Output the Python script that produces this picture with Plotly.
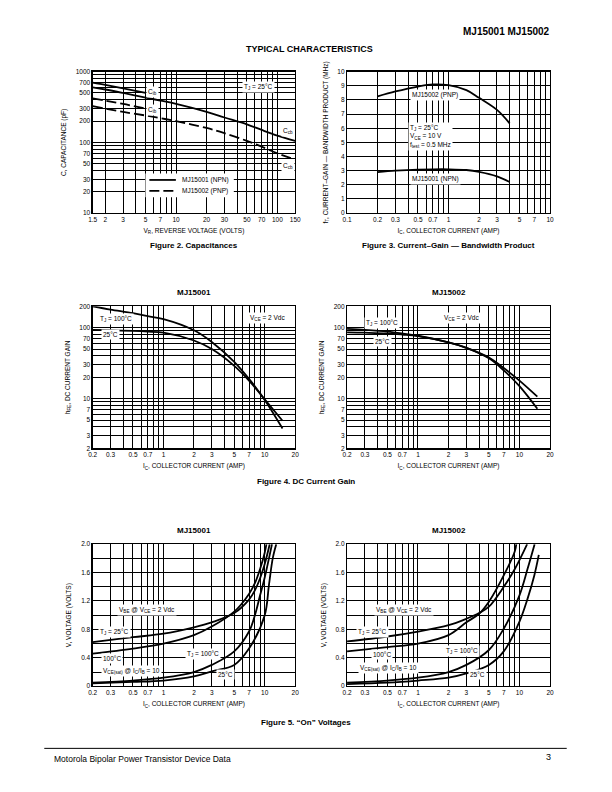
import math
import plotly.graph_objects as go

# ---------------- DATA ----------------
# Figure 2: capacitances
cap_vr = [1.5, 2, 3, 5, 7, 10, 20, 30, 50, 70, 100, 150]
cob_npn = [600, 560, 500, 430, 390, 350, 270, 225, 180, 150, 125, 105]
cob_pnp = [325, 300, 270, 240, 220, 200, 160, 135, 105, 87, 70, 57]
cib_vr = [1.5, 2, 3, 5]
cib_npn = [700, 650, 580, 500]
cib_pnp = [420, 390, 350, 300]

# Figure 3: fT
ft_ic = [0.2, 0.3, 0.5, 0.7, 1, 1.5, 2, 3, 4]
ft_pnp = [8.25, 8.6, 8.95, 9.1, 9.05, 8.7, 8.15, 7.3, 6.35]
ft_npn = [2.9, 3.0, 3.08, 3.1, 3.1, 3.05, 2.92, 2.6, 2.2]

# Figure 4: DC current gain
hfe_ic = [0.2, 0.3, 0.5, 0.7, 1, 2, 3, 5, 7, 10, 15]
hfe1_100 = [200, 180, 160, 145, 132, 92, 63, 33, 19, 9.6, 3.8]
hfe1_25 = [93, 92, 90, 88, 85, 66, 50, 29, 18, 9.8, 4.9]
hfe2_100 = [96, 93, 88, 83, 77, 62, 52, 37, 25, 15, 7.2]
hfe2_25 = [86, 85, 83, 80, 76, 62, 52, 38, 27, 18, 10.7]

# Figure 5: on voltages
v1_ic_be100 = [0.2, 0.5, 1, 2, 3, 5, 7, 8, 9, 10, 10.4]
v1_be100 = [0.46, 0.53, 0.6, 0.72, 0.84, 1.05, 1.3, 1.45, 1.65, 1.88, 2.0]
v1_ic_be25 = [0.2, 0.5, 1, 2, 3, 5, 7, 8, 9, 10, 11.2]
v1_be25 = [0.62, 0.69, 0.74, 0.83, 0.9, 1.03, 1.22, 1.35, 1.52, 1.72, 2.0]
v1_ic_sat100 = [0.2, 0.5, 1, 2, 3, 5, 7, 8, 9, 10, 11.8]
v1_sat100 = [0.05, 0.08, 0.12, 0.2, 0.3, 0.49, 0.77, 1.0, 1.28, 1.53, 2.0]
v1_ic_sat25 = [0.2, 0.5, 1, 2, 3, 5, 7, 10, 11, 12, 13]
v1_sat25 = [0.04, 0.06, 0.08, 0.14, 0.21, 0.3, 0.53, 1.0, 1.42, 1.8, 2.0]

v2_ic_be100 = [0.2, 0.5, 1, 2, 3, 4, 5, 7, 9, 9.3]
v2_be100 = [0.49, 0.55, 0.6, 0.72, 0.9, 1.02, 1.19, 1.56, 1.9, 2.0]
v2_ic_be25 = [0.2, 0.5, 1, 2, 3, 4, 5, 7, 9, 11.9]
v2_be25 = [0.63, 0.7, 0.77, 0.86, 0.95, 1.03, 1.12, 1.4, 1.65, 2.0]
v2_ic_sat100 = [0.2, 0.5, 1, 2, 3, 5, 7, 10, 12, 14.1]
v2_sat100 = [0.05, 0.08, 0.12, 0.2, 0.3, 0.51, 0.81, 1.28, 1.65, 2.0]
v2_ic_sat25 = [0.2, 0.5, 1, 2, 3, 5, 7, 10, 12, 14, 15.5]
v2_sat25 = [0.03, 0.05, 0.08, 0.12, 0.18, 0.3, 0.49, 0.91, 1.23, 1.56, 1.85]

# tick labels
cap_x_labels = [1.5, 2, 3, 5, 7, 10, 20, 30, 50, 70, 100, 150]
cap_y_labels = [10, 20, 30, 50, 70, 100, 200, 300, 500, 700, 1000]
ft_x_labels = [0.1, 0.2, 0.3, 0.5, 0.7, 1, 2, 3, 5, 7, 10]
ft_y_labels = list(range(0, 11))
ic_x_labels = [0.2, 0.3, 0.5, 0.7, 1, 2, 3, 5, 7, 10, 20]
hfe_y_labels = [2, 3, 5, 7, 10, 20, 30, 50, 70, 100, 200]
v_y_labels = [0, 0.4, 0.8, 1.2, 1.6, 2.0]

FONT = "Liberation Sans, Arial, Helvetica, sans-serif"
W, H = 612, 792
BLK = "black"
LW = 1.8


def log_grid(lo, hi):
    vals = []
    d = 10 ** math.floor(math.log10(lo))
    while d <= hi:
        for m in range(1, 10):
            v = round(m * d, 10)
            if lo - 1e-9 <= v <= hi + 1e-9:
                vals.append(v)
        d *= 10
    return sorted(vals)


def minor_of(grid, labels):
    return [g for g in grid if not any(abs(g - l) < 1e-9 for l in labels)]


def px_dom_x(a, b):
    return [a / W, b / W]


def px_dom_y(top, bottom):
    return [1 - bottom / H, 1 - top / H]


fig = go.Figure()


def curve(xs, ys, xa, ya, dash=None):
    line = dict(color=BLK, width=LW, shape="spline", smoothing=1.0)
    if dash:
        line["dash"] = dash
    fig.add_trace(go.Scatter(x=xs, y=ys, mode="lines", line=line, showlegend=False,
                             xaxis=xa, yaxis=ya, hoverinfo="skip"))


DASH = "10px,4px"
# ---- Fig 2
curve(cap_vr, cob_npn, "x", "y")
curve(cap_vr, cob_pnp, "x", "y", DASH)
curve(cib_vr, cib_npn, "x", "y")
curve(cib_vr, cib_pnp, "x", "y", DASH)
# ---- Fig 3
curve(ft_ic, ft_pnp, "x2", "y2")
curve(ft_ic, ft_npn, "x2", "y2")
# ---- Fig 4
curve(hfe_ic, hfe1_100, "x3", "y3")
curve(hfe_ic, hfe1_25, "x3", "y3")
curve(hfe_ic, hfe2_100, "x4", "y4")
curve(hfe_ic, hfe2_25, "x4", "y4")
# ---- Fig 5
for xs, ys in ((v1_ic_be100, v1_be100), (v1_ic_be25, v1_be25), (v1_ic_sat100, v1_sat100), (v1_ic_sat25, v1_sat25)):
    curve(xs, ys, "x5", "y5")
for xs, ys in ((v2_ic_be100, v2_be100), (v2_ic_be25, v2_be25), (v2_ic_sat100, v2_sat100), (v2_ic_sat25, v2_sat25)):
    curve(xs, ys, "x6", "y6")

TICKF = dict(family=FONT, size=6.5, color=BLK)
TITLEF = dict(family=FONT, size=6.5, color=BLK)


def axis(domain, typ, rng, labels, grid, title, anchor, standoff=6, fmtfn=None):
    fmtfn = fmtfn or (lambda v: "%g" % v)
    return dict(domain=domain, type=typ, range=rng, tickmode="array", tickvals=labels,
                ticktext=[fmtfn(v) for v in labels],
                showgrid=True, gridcolor=BLK, gridwidth=1, showline=True, linecolor=BLK, linewidth=1.2,
                mirror=True, ticks="", tickfont=TICKF, zeroline=False, anchor=anchor, fixedrange=True,
                minor=dict(tickmode="array", tickvals=minor_of(grid, labels), showgrid=True,
                           gridcolor=BLK, gridwidth=1, ticks=""),
                title=dict(text=title, font=TITLEF, standoff=standoff))


dx_l = px_dom_x(89.3, 295.5)
dx_r = px_dom_x(348.3, 555)
dy_1 = px_dom_y(68.3, 211)
dy_2 = px_dom_y(305, 448.3)
dy_3 = px_dom_y(545, 688.3)

IC_TITLE = "I<sub>C</sub>, COLLECTOR CURRENT (AMP)"
ic_grid = log_grid(0.2, 20)
hfe_grid = log_grid(2, 200)
v_grid = [round(0.2 * i, 1) for i in range(11)]
vfmt = lambda v: "0" if v == 0 else "%.1f" % v

fig.update_layout(
    width=W, height=H, margin=dict(l=0, r=0, t=0, b=0),
    paper_bgcolor="white", plot_bgcolor="white",
    font=dict(family=FONT, color=BLK),
    showlegend=False,
    xaxis=axis(dx_l, "log", [math.log10(1.5), math.log10(150)], cap_x_labels, log_grid(1.5, 150),
               "V<sub>R</sub>, REVERSE VOLTAGE (VOLTS)", "y"),
    yaxis=axis(dy_1, "log", [1, 3], cap_y_labels, log_grid(10, 1000), "C, CAPACITANCE (pF)", "x", 8),
    xaxis2=axis(dx_r, "log", [-1, 1], ft_x_labels, log_grid(0.1, 10), IC_TITLE, "y2"),
    yaxis2=axis(dy_1, "linear", [0, 10], ft_y_labels, ft_y_labels,
                "f<sub>T</sub>, CURRENT–GAIN — BANDWIDTH PRODUCT (MHz)", "x2", 8),
    xaxis3=axis(dx_l, "log", [math.log10(0.2), math.log10(20)], ic_x_labels, ic_grid, IC_TITLE, "y3"),
    yaxis3=axis(dy_2, "log", [math.log10(2), math.log10(200)], hfe_y_labels, hfe_grid,
                "h<sub>FE</sub>, DC CURRENT GAIN", "x3", 8),
    xaxis4=axis(dx_r, "log", [math.log10(0.2), math.log10(20)], ic_x_labels, ic_grid, IC_TITLE, "y4"),
    yaxis4=axis(dy_2, "log", [math.log10(2), math.log10(200)], hfe_y_labels, hfe_grid,
                "h<sub>FE</sub>, DC CURRENT GAIN", "x4", 8),
    xaxis5=axis(dx_l, "log", [math.log10(0.2), math.log10(20)], ic_x_labels, ic_grid, IC_TITLE, "y5"),
    yaxis5=axis(dy_3, "linear", [0, 2], v_y_labels, v_grid, "V, VOLTAGE (VOLTS)", "x5", 8, vfmt),
    xaxis6=axis(dx_r, "log", [math.log10(0.2), math.log10(20)], ic_x_labels, ic_grid, IC_TITLE, "y6"),
    yaxis6=axis(dy_3, "linear", [0, 2], v_y_labels, v_grid, "V, VOLTAGE (VOLTS)", "x6", 8, vfmt),
)

anns = []


def lab(text, x, y, xref, yref, logy=False, size=6.5, xanchor="center"):
    anns.append(dict(text=text, x=math.log10(x), y=math.log10(y) if logy else y,
                     xref=xref, yref=yref, showarrow=False, bgcolor="white", borderpad=1,
                     font=dict(family=FONT, size=size, color=BLK), xanchor=xanchor, align="left"))


# fig 2 labels
lab("C<sub>ib</sub>", 5.8, 520, "x", "y", logy=True)
lab("C<sub>ib</sub>", 5.8, 290, "x", "y", logy=True)
lab("C<sub>cb</sub>", 128, 144, "x", "y", logy=True)
lab("C<sub>cb</sub>", 128, 46, "x", "y", logy=True)
lab("T<sub>J</sub> = 25°C", 65, 616, "x", "y", logy=True)
# fig 3 labels
lab("MJ15002 (PNP)", 0.74, 8.37, "x2", "y2")
lab("MJ15001 (NPN)", 0.74, 2.44, "x2", "y2")
lab("T<sub>J</sub> = 25°C<br>V<sub>CE</sub> = 10 V<br>f<sub>test</sub> = 0.5 MHz", 0.4, 5.4, "x2", "y2", xanchor="left")
# fig 4 labels
lab("T<sub>J</sub> = 100°C", 0.34, 132, "x3", "y3", logy=True)
lab("25°C", 0.30, 81, "x3", "y3", logy=True)
lab("V<sub>CE</sub> = 2 Vdc", 10.7, 137, "x3", "y3", logy=True)
lab("T<sub>J</sub> = 100°C", 0.44, 117, "x4", "y4", logy=True)
lab("25°C", 0.45, 63, "x4", "y4", logy=True)
lab("V<sub>CE</sub> = 2 Vdc", 2.7, 137, "x4", "y4", logy=True)
# fig 5 labels
lab("V<sub>BE</sub> @ V<sub>CE</sub> = 2 Vdc", 0.69, 1.07, "x5", "y5")
lab("T<sub>J</sub> = 25°C", 0.33, 0.77, "x5", "y5")
lab("100°C", 0.31, 0.385, "x5", "y5")
lab("T<sub>J</sub> = 100°C", 2.45, 0.46, "x5", "y5")
lab("V<sub>CE(sat)</sub> @ I<sub>C</sub>/I<sub>B</sub> = 10", 0.48, 0.21, "x5", "y5")
lab("25°C", 4.12, 0.16, "x5", "y5")
lab("V<sub>BE</sub> @ V<sub>CE</sub> = 2 Vdc", 0.73, 1.08, "x6", "y6")
lab("T<sub>J</sub> = 25°C", 0.36, 0.77, "x6", "y6")
lab("100°C", 0.44, 0.44, "x6", "y6")
lab("T<sub>J</sub> = 100°C", 2.7, 0.49, "x6", "y6")
lab("V<sub>CE(sat)</sub> @ I<sub>C</sub>/I<sub>B</sub> = 10", 0.51, 0.25, "x6", "y6")
lab("25°C", 3.9, 0.16, "x6", "y6")


def ptext(text, x, y, size=8, bold=True, xanchor="center"):
    anns.append(dict(text=("<b>%s</b>" % text) if bold else text, x=x / W, y=1 - y / H,
                     xref="paper", yref="paper", showarrow=False, xanchor=xanchor, yanchor="middle",
                     font=dict(family=FONT, size=size, color=BLK)))


ptext("MJ15001 MJ15002", 557, 28, size=10, xanchor="right")
ptext("TYPICAL CHARACTERISTICS", 310, 45, size=9)
ptext("Figure 2. Capacitances", 192, 244, size=8)
ptext("Figure 3. Current–Gain — Bandwidth Product", 452, 244, size=8)
ptext("MJ15001", 192, 291, size=8)
ptext("MJ15002", 452, 291, size=8)
ptext("Figure 4. DC Current Gain", 306, 482, size=8)
ptext("MJ15001", 192, 531, size=8)
ptext("MJ15002", 452, 531, size=8)
ptext("Figure 5. “On” Voltages", 306, 725, size=8)
ptext("Motorola Bipolar Power Transistor Device Data", 48, 762, size=8.5, bold=False, xanchor="left")
ptext("3", 553, 760, size=9, bold=False)

# legend for figure 2 (key box drawn as decoration)
ptext("MJ15001 (NPN)", 178, 177.5, size=6.5, bold=False, xanchor="left")
ptext("MJ15002 (PNP)", 178, 188.5, size=6.5, bold=False, xanchor="left")

shapes = [
    dict(type="line", xref="paper", yref="paper", x0=40 / W, x1=572 / W,
         y0=1 - 751 / H, y1=1 - 751 / H, line=dict(color=BLK, width=1)),
    dict(type="rect", xref="paper", yref="paper", x0=143 / W, x1=233 / W,
         y0=1 - 195 / H, y1=1 - 171 / H, fillcolor="white", line=dict(width=0), layer="above"),
    dict(type="line", xref="paper", yref="paper", x0=147 / W, x1=174 / W,
         y0=1 - 177.5 / H, y1=1 - 177.5 / H, line=dict(color=BLK, width=LW)),
    dict(type="line", xref="paper", yref="paper", x0=147 / W, x1=174 / W,
         y0=1 - 188.5 / H, y1=1 - 188.5 / H, line=dict(color=BLK, width=LW, dash=DASH)),
]

fig.update_layout(annotations=anns, shapes=shapes)

fig.write_html("out.html", config={"displayModeBar": False, "staticPlot": True},
               post_script="document.body.style.margin='0';document.body.style.overflow='hidden';")
